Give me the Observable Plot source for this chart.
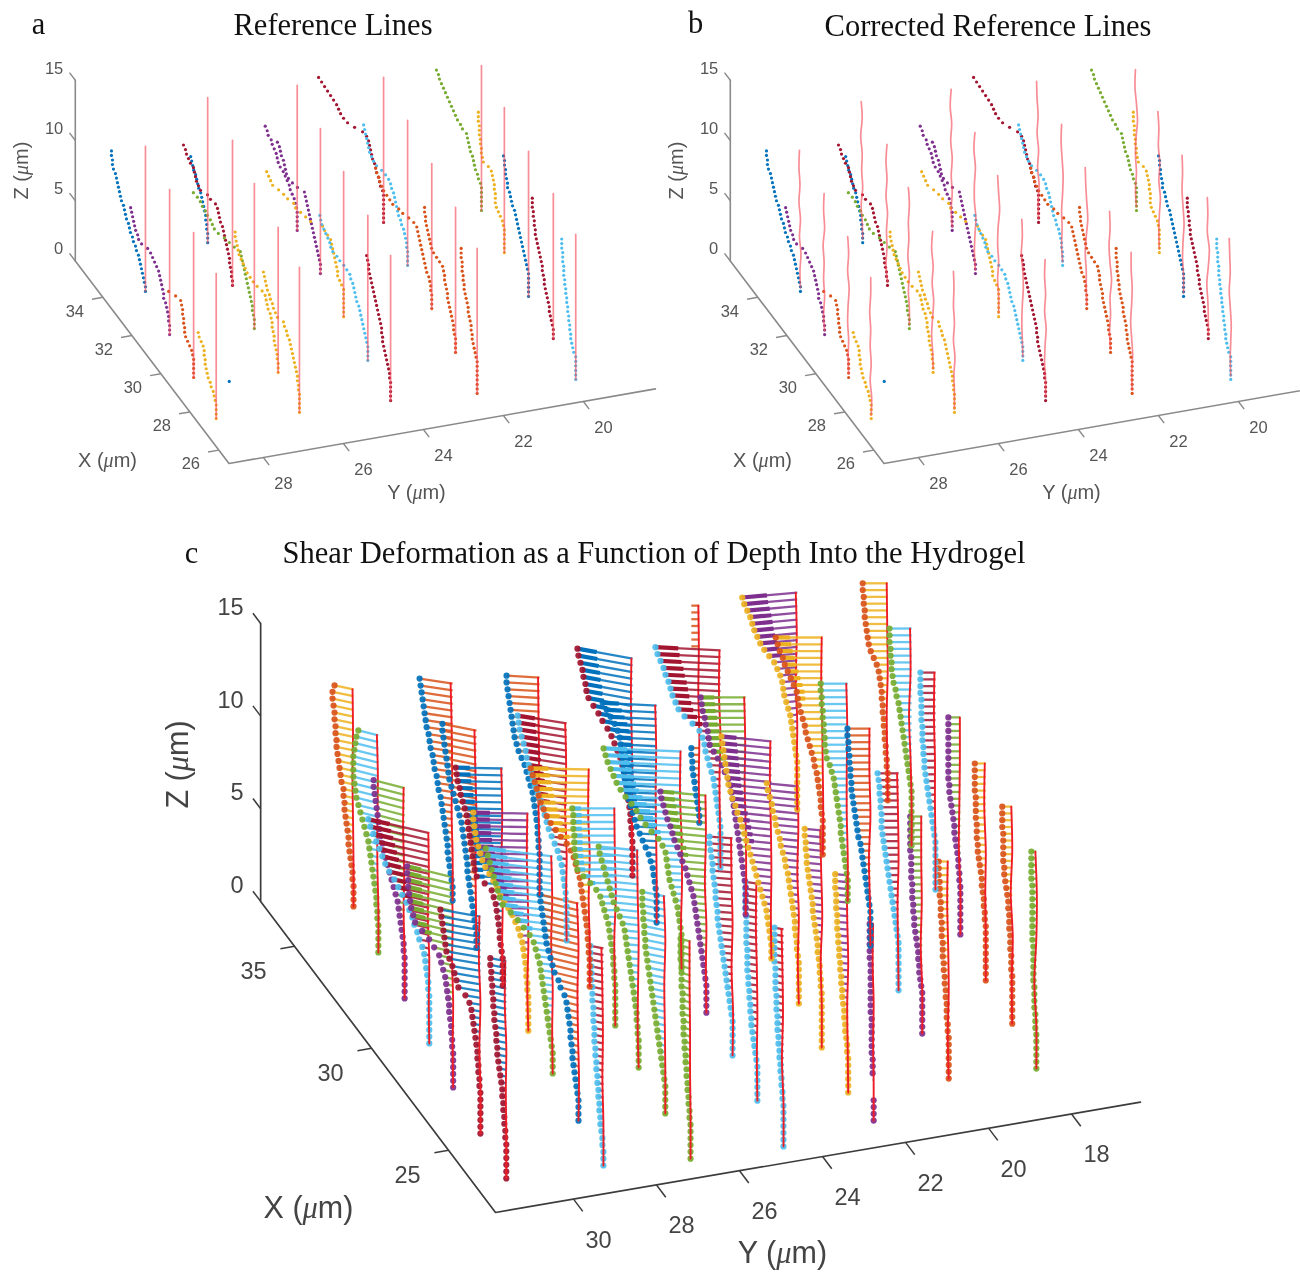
<!doctype html>
<html><head><meta charset="utf-8">
<style>html,body{margin:0;background:#fff}svg{display:block;filter:blur(.55px)}</style>
<script src="https://cdn.jsdelivr.net/npm/d3@7"></script>
<script src="https://cdn.jsdelivr.net/npm/@observablehq/plot@0.6"></script>
</head><body><script>
// series palette
const seriesNames=["b","o","y","p","g","c","m"];
const seriesColors=["#0072BD","#D95319","#EDB120","#7E2F8E","#77AC30","#4DBEEE","#A2142F"];

// panels a and b: 24 fibres. X, Y in um, levels counted from the gel surface
const aX=[33.93,31.74,29.56,27.48, 35.68,33.50,31.33,29.11,27.09, 35.52,33.34,31.16,28.94,26.90, 35.19,33.01,30.82,28.60,26.53, 34.95,32.82,30.60,28.45,26.38];
const aY=[27.82,28.01,28.20,28.39, 25.63,25.80,26.04,26.25,26.45, 23.45,23.66,23.87,24.07,24.24, 21.41,21.60,21.79,22.00,22.21, 19.05,19.25,19.45,19.61,19.80];
const aLevels=[32,29,20,20, 20,32,31,32,32, 24,30,33,33,33, 33,32,32,33,33, 32,32,32,32,32];
const aDots=["b","p","o","y", "b","m","g","y","y", "p","p","y","c","m", "m","c","o","o","o", "g","y","b","m","c"];
// shear per level, top to bottom, in 0.01 um
const aShear=[
[68,68,66,66,64,60,58,56,54,52,50,48,44,42,40,38,34,32,30,26,24,20,18,14,12,10,8,6,4,2,0],
[78,76,74,72,70,68,64,62,56,44,38,34,30,26,22,20,18,16,14,12,12,8,6,4,2,2,0],
[50,36,26,24,22,22,20,20,18,18,16,12,8,4,2,0],
[36,34,30,26,24,24,22,22,20,18,16,12,10,6,4,2,0],
[34,32,30,28,24,22,20,18,14,12,10,8,6,4,4,2,2,0],
[98,94,92,88,84,78,76,74,72,68,64,50,44,34,30,28,26,24,20,18,16,14,12,10,8,6,6,4,2,2,0],
[122,114,108,104,98,94,88,84,80,72,60,50,40,28,26,24,22,20,18,16,14,12,10,8,6,4,4,2,0],
[86,86,84,82,80,78,74,70,66,62,56,50,42,32,26,24,22,20,16,14,12,12,10,8,8,6,4,2,2,0],
[72,70,68,66,64,60,58,54,52,48,44,32,30,26,24,20,18,16,14,12,10,8,6,4,4,2,2,0],
[64,60,58,52,50,46,42,40,38,34,28,24,20,16,14,10,6,4,2,0],
[86,82,80,78,74,72,70,68,64,56,46,32,30,28,26,24,22,20,18,16,14,12,10,8,6,4,2,0],
[154,150,146,142,130,120,112,100,96,86,76,66,42,38,32,26,24,22,20,18,16,14,12,12,8,4,0],
[96,94,92,88,84,80,76,74,70,62,56,48,42,36,34,30,28,26,24,22,18,16,14,12,10,8,6,4,2,0],
[48,46,44,44,42,40,38,36,34,32,30,28,26,24,22,20,18,18,16,16,14,12,10,8,6,4,2,2,0],
[130,124,118,112,106,100,94,90,86,80,72,58,42,34,30,28,26,24,22,18,16,14,10,8,6,2,0],
[88,86,84,82,80,78,76,72,68,62,52,44,38,34,32,28,26,24,22,20,18,14,12,8,6,4,2,2,0],
[112,110,106,104,100,96,90,84,78,66,58,46,36,30,28,26,24,22,20,18,16,14,12,10,6,4,2,2,0],
[62,62,60,60,58,56,54,52,50,48,44,38,32,26,24,22,22,20,18,16,16,14,12,10,8,6,4,4,2,0],
[32,32,32,30,30,30,28,28,26,26,24,22,20,18,18,16,14,12,12,10,10,8,6,4,2,0],
[90,86,84,80,76,72,68,64,60,56,52,48,42,38,30,28,26,24,22,18,16,14,12,8,6,2,0],
[52,52,52,50,50,50,48,48,46,46,44,42,32,26,24,22,20,20,18,18,18,16,12,8,4,2,0],
[50,48,48,46,46,44,42,42,38,36,34,32,28,26,24,22,20,18,16,14,12,10,8,6,4,2,0],
[42,42,42,40,40,38,38,36,36,34,32,30,28,26,24,22,22,20,18,18,16,14,12,10,8,8,6,4,2,0],
[28,28,28,26,26,26,24,24,24,22,22,20,20,18,18,16,16,14,14,12,12,10,10,8,6,4,0]];
// corrected reference line of panel b: offset at nine depths, 0.01 um
const bRed=[
[2,3,1,3,0,2,-1,1,0],[1,2,0,3,1,2,0,2,0],[2,0,2,-1,1,2,0,1,0],[1,1,3,1,2,0,2,-1,0],
[3,1,4,1,2,0,3,1,0],[1,3,1,3,0,2,1,3,0],[2,0,2,1,3,0,2,0,0],[1,3,0,2,-1,1,3,1,0],[2,1,2,0,2,-1,1,0,0],
[2,4,1,3,0,2,0,2,0],[1,3,0,2,2,-1,1,2,0],[2,0,-2,1,2,0,2,0,0],[2,1,3,0,-1,1,2,1,0],[1,2,0,2,-1,1,2,0,0],
[4,3,1,3,0,2,-1,1,0],[2,3,1,-1,0,2,1,2,0],[3,2,0,-2,1,3,1,1,0],[2,1,3,1,-2,1,0,2,0],[2,2,0,1,3,1,-1,1,0],
[2,3,0,-2,1,2,0,2,0],[3,1,2,-1,1,-2,0,1,0],[3,2,3,1,-1,1,2,0,0],[2,1,2,-2,0,3,1,0,0],[3,2,1,3,1,-1,0,1,0]];
const loneX=[29.09],loneY=[27.48],loneZ=[0],loneSeries=["b"];

// panel c: 50 fibres
const cX=[36.29,34.11,31.92,29.78,27.69,25.49,23.35, 35.81,33.59,31.75,29.60,27.56,25.32,23.19, 35.42,33.23,31.06,29.18,27.18,24.99,22.84, 35.56,33.34,31.16,29.06,27.01,24.86,22.68, 37.36,35.26,33.03,30.93,28.77,26.69,24.54,23.13, 37.20,35.06,32.87,30.75,28.60,26.55,24.40, 36.93,34.79,32.70,30.57,28.38,26.31,24.18];
const cY=[29.98,30.19,30.37,30.57,30.77,30.93,31.10, 27.77,28.02,28.07,28.25,28.42,28.63,28.82, 25.82,25.98,26.23,26.31,26.49,26.66,26.85, 23.53,23.77,23.98,24.16,24.29,24.49,24.67, 21.25,21.52,21.74,21.90,22.04,22.26,22.42,22.33, 18.95,19.13,19.34,19.58,19.70,19.89,20.05, 16.87,17.09,17.29,17.48,17.68,17.81,18.02];
const cLevels=[33,33,32,32,32,33,33, 33,33,33,33,33,33,33, 33,33,33,33,33,33,33, 33,33,33,33,33,33,33, 33,33,33,33,33,33,33,30, 33,33,33,33,33,33,33, 33,33,33,33,33,33,33];
const cDots="ogpcpmm"+"bbmygbc"+"bcogggg"+"mbgpccc"+"bcpyyyyp"+"yogbcpo"+"ogcpoog";
const cLinks="ycgmgbb"+"oobpcom"+"omycccg"+"bbcgmmm"+"omgppppb"+"pycomgy"+"ycmgyyg";
const cTilt=[.21,.25,.26,.23,.24,.17,.2, .15,.2,.02,.02,.12,.24,.2, .06,.16,.02,0,.1,.2,.3, .18,.05,.04,.09,.08,.15,.2, 0,.05,0,.1,.1,.1,.1,0, -.09,0,0,0,0,0,0, 0,0,0,0,0,0,0];
const cFirstDot=[0,0,0,0,0,0,0, 0,0,0,0,0,0,0, 0,0,0,0,0,0,0, 0,0,0,0,0,0,0, 21,0,0,0,0,0,0,0, 0,0,0,0,0,0,0, 0,0,0,0,0,0,0];
// share of each connector drawn heavier next to its dot
const cHeavy=[0,0,0,.35,.3,0,0, 0,0,.3,.3,.3,0,0, 0,.35,.3,.2,0,0,0, .35,.3,.3,.3,0,0,0, 0,.35,.3,.3,0,0,0,0, .45,.3,0,0,0,0,0, 0,0,0,0,0,0,0];
const gapColumn=[35],gapFrom=[23],gapTo=[25];
const cShear=[
[38,42,42,40,38,38,36,36,34,34,32,30,28,26,24,20,20,18,18,16,14,12,10,10,8,6,4,2,2,0],
[40,44,46,48,50,50,50,50,48,46,44,40,36,32,28,24,20,18,16,14,12,10,8,6,4,4,2,2,0],
[62,62,60,58,56,54,52,50,48,44,42,38,34,30,26,22,18,14,12,10,8,6,4,2,2,0],
[122,118,112,106,100,94,88,80,70,62,54,46,40,34,30,24,20,14,10,8,6,4,2,2,0],
[92,92,90,90,88,86,84,80,76,62,48,38,28,24,20,16,14,12,10,8,8,6,4,4,2,2,0],
[80,78,76,74,72,70,68,62,56,52,48,44,30,22,18,16,14,12,10,8,6,6,4,4,2,2,0],
[32,32,30,30,28,28,26,26,24,24,22,20,20,18,18,16,14,12,10,8,8,6,6,4,4,2,2,0],
[66,64,62,60,58,56,54,52,48,46,44,40,38,36,32,30,28,24,22,20,18,16,14,12,10,10,8,6,4,2,0],
[68,68,66,64,62,60,58,56,54,50,46,42,38,34,30,28,26,24,22,20,18,18,16,14,12,10,8,6,4,2,0],
[94,92,90,86,84,80,76,72,70,68,66,64,62,60,58,56,52,36,22,18,14,12,10,8,6,6,4,2,0],
[110,110,108,106,104,100,96,92,86,78,70,62,56,48,40,32,26,20,16,12,10,8,6,4,4,2,2,0],
[134,130,126,122,118,114,110,106,100,84,70,58,46,38,34,30,26,24,22,20,18,16,14,12,10,8,6,4,2,0],
[76,76,74,72,70,68,66,64,60,56,52,48,40,36,28,24,22,20,18,16,16,14,12,12,10,8,6,4,2,0],
[26,26,26,24,24,24,22,22,22,20,20,20,18,18,18,16,16,14,14,12,12,10,10,8,8,6,6,4,2,2,0],
[66,66,64,62,60,58,56,54,52,50,46,42,36,30,26,22,18,14,12,10,8,6,4,4,2,2,0],
[98,96,94,90,86,82,80,76,72,68,64,58,52,48,44,40,36,30,24,18,14,10,8,6,4,2,2,0],
[118,114,110,106,102,98,92,86,78,68,58,46,38,32,28,24,20,18,16,14,12,10,8,6,4,4,2,2,0],
[86,84,84,84,82,82,82,80,78,76,64,50,38,30,26,22,18,14,12,10,8,6,4,4,2,2,0],
[80,78,74,70,66,62,58,54,50,44,38,32,28,26,24,22,20,18,16,14,12,10,8,6,4,4,2,2,0],
[46,46,46,44,44,42,42,40,40,38,36,34,32,30,28,26,24,22,20,18,16,14,12,10,8,6,4,2,0],
[20,20,20,20,18,18,18,18,16,16,16,16,14,14,14,12,12,10,10,8,8,6,6,4,4,2,2,0],
[110,108,104,100,98,94,92,88,78,68,60,50,42,36,30,24,20,16,14,12,10,8,6,4,4,2,2,0],
[108,100,92,84,78,74,72,70,68,66,66,64,60,58,56,52,48,44,40,34,28,22,16,12,8,6,4,2,0],
[156,152,148,142,136,130,122,112,100,90,82,72,60,46,38,32,30,28,26,24,20,16,12,8,6,4,2,0],
[92,90,86,82,78,72,68,64,58,52,48,42,38,34,30,26,24,22,20,18,16,14,12,10,8,6,4,2,0],
[46,46,44,42,40,40,38,36,34,34,32,30,30,28,26,24,22,20,18,16,14,12,10,8,6,4,2,0],
[24,24,24,24,24,22,22,22,22,22,20,20,20,20,18,18,16,16,14,14,12,12,10,8,6,4,2,0],
[18,18,18,18,18,18,16,16,16,16,14,14,14,12,12,12,10,10,8,8,6,6,4,4,2,2,0],
[16,16,16,16,16,16,16,0,0,0,0,0,0,0,0,0,0,0,0,0,0,16,16,14,14,12,10,8,6,4,2,0],
[130,126,120,114,110,104,100,96,90,84,72,56,42,36,32,30,26,22,18,14,12,10,8,6,4,2,0],
[90,88,86,82,80,76,74,72,64,56,48,42,34,30,28,26,24,22,20,18,16,14,12,10,8,6,4,2,0],
[100,98,96,94,92,90,88,86,82,78,72,68,62,58,54,50,46,42,38,34,30,26,22,18,14,10,8,6,4,2,0],
[64,62,58,54,52,48,46,42,38,36,32,28,26,22,20,18,16,14,12,10,8,8,6,4,4,2,0],
[34,34,32,32,30,30,28,26,24,22,20,18,18,16,14,12,10,8,8,6,4,4,2,2,0],
[26,26,26,24,24,24,22,22,22,20,20,18,18,16,16,14,14,12,12,10,8,8,6,6,4,2,2,0],
[8,8,8,8,8,8,6,6,6,6,6,6,6,6,4,4,4,4,4,4,2,2,2,2,0],
[110,106,100,94,90,86,80,74,66,56,46,40,34,30,28,26,22,18,14,12,10,8,6,4,2,0],
[94,90,86,80,76,70,64,58,52,50,48,44,40,36,34,30,26,22,18,16,12,10,8,6,4,4,2,0],
[54,54,52,52,50,50,48,48,46,46,44,42,36,32,28,26,24,22,20,18,16,14,14,12,10,8,6,4,2,0],
[46,46,44,44,42,42,40,40,38,38,36,34,32,30,28,26,24,20,18,16,14,12,10,8,6,4,2,0],
[42,40,38,38,36,36,34,34,34,32,30,28,26,24,22,20,18,16,14,12,10,8,6,4,2,0],
[24,24,24,24,24,24,22,22,22,22,20,20,20,18,18,16,16,14,12,10,8,8,6,6,4,2,0],
[20,20,20,18,18,18,16,16,16,14,14,14,12,12,12,10,10,8,8,6,6,4,4,4,2,2,0],
[50,50,48,48,46,46,44,42,40,38,34,28,22,18,16,14,12,12,10,10,8,8,6,6,4,4,2,2,0],
[44,44,44,42,42,40,40,38,36,32,30,26,24,22,20,18,16,14,12,10,8,6,4,2,0],
[30,30,30,30,28,28,28,28,26,26,26,24,24,22,22,20,18,16,14,12,10,8,6,4,2,0],
[24,24,24,24,24,24,24,24,24,24,22,22,20,18,16,14,12,12,10,8,6,4,4,2,2,0],
[22,22,22,22,22,20,20,20,20,18,18,18,16,16,14,12,10,8,8,6,4,4,2,2,0],
[20,20,20,20,18,18,18,18,18,16,16,14,12,10,8,8,6,6,6,4,4,4,2,2,2,0],
[10,10,10,10,10,8,8,8,8,8,8,8,8,8,6,6,6,6,6,6,4,4,4,4,2,2,2,0]];
// corrected line of panel c, offset at six depths, 0.01 um
const cRed=[
[2,1,2,1,0,0],[3,1,2,2,0,0],[2,3,1,2,0,0],[2,1,3,0,1,0],[3,1,2,0,1,0],[2,3,0,2,0,0],[2,3,0,1,0,0],
[4,2,1,2,0,0],[4,2,0,2,1,0],[3,1,2,0,1,0],[2,3,1,0,2,0],[3,1,3,0,1,0],[3,0,2,1,-1,0],[4,2,1,2,0,0],
[3,2,1,2,0,0],[3,1,3,0,1,0],[2,3,0,2,0,0],[2,1,-1,2,1,0],[3,2,0,1,2,0],[3,0,2,1,0,0],[2,2,1,1,0,0],
[2,3,1,0,1,0],[3,1,2,1,0,0],[2,3,0,-1,1,0],[2,1,3,0,1,0],[3,2,0,2,-1,0],[2,3,1,0,1,0],[4,2,1,3,0,0],
[2,1,2,0,1,0],[2,3,0,2,1,0],[3,1,2,0,-1,0],[2,3,1,0,1,0],[2,1,3,0,2,0],[3,1,-1,2,0,0],[3,2,0,2,1,0],[1,2,0,1,0,0],
[3,1,3,0,1,0],[2,3,1,0,-1,0],[3,1,2,2,0,0],[2,2,0,3,1,0],[3,1,0,2,1,0],[2,2,1,3,0,0],[2,3,1,0,2,0],
[2,1,0,2,1,0],[3,2,5,2,0,0],[2,3,1,1,0,0],[1,1,2,3,0,0],[2,3,0,1,0,0],[2,0,3,-1,1,0],[2,-1,0,4,0,0]];

// axes
const aXTicks=[26,28,30,32,34],aYTicks=[20,22,24,26,28],zTicks=[0,5,10,15];
const cXTicks=[25,30,35],cYTicks=[18,20,22,24,26,28,30];

// captions
const titleTexts=["a","Reference Lines","b","Corrected Reference Lines","c","Shear Deformation as a Function of Depth Into the Hydrogel"];
const titlePos=[[38,24],[332.5,25],[695,23],[987.5,26],[191,553],[653.5,553]];
const xName="X (μm)",yName="Y (μm)",zName="Z (μm)";

const W=1300,H=1273;
const viewA={ox:228.5,oy:463,x0:25.3,y0:28.86,xEnd:35.9,yEnd:18.2,xx:-14.5,xy:-19.1,yx:-40,yy:7,zz:12.05,dz:.376};
const viewB={...viewA,ox:883.5};
const viewC={ox:495,oy:1212,x0:21.95,y0:31.88,xEnd:37.2,yEnd:16.34,xx:-15.4,xy:-20.4,yx:-41.5,yy:7.1,zz:18.53,dz:.366};
const sx=(v,X,Y)=>v.ox+v.xx*(X-v.x0)+v.yx*(Y-v.y0);
const sy=(v,X,Y,Z)=>v.oy+v.xy*(X-v.x0)+v.yy*(Y-v.y0)-v.zz*Z;
// unit shear direction: one shear um moves a point 50 px to the left, with the given screen tilt
function dir(v,t){const det=v.xx*v.yy-v.yx*v.xy;
  return [(-50*v.yy+50*t*v.yx)/det,(v.xx*(-50*t)+50*v.xy)/det];}
const pt=(v,X,Y,Z,s,u)=>({x:sx(v,X+u[0]*s,Y+u[1]*s),y:sy(v,X+u[0]*s,Y+u[1]*s,Z)});

function axisMarks(v,o){
  const col=o.color,ms=[];
  const line=(a)=>Plot.line(a,{x:"x",y:"y",stroke:col,strokeWidth:o.sw});
  const P=(X,Y,Z)=>({x:sx(v,X,Y),y:sy(v,X,Y,Z)});
  ms.push(line([P(v.xEnd,v.y0,15),P(v.xEnd,v.y0,0),P(v.x0,v.y0,0),P(v.x0,v.yEnd,0)]));
  const tl=(rows)=>Plot.link(rows,{x1:"x1",y1:"y1",x2:"x2",y2:"y2",stroke:col,strokeWidth:o.sw*.9});
  const seg=(p,q)=>({x1:p.x,y1:p.y,x2:q.x,y2:q.y});
  ms.push(tl(o.xt.map(t=>seg(P(t,v.y0,0),P(t,v.y0+o.xl,0)))));
  ms.push(tl(o.yt.map(t=>seg(P(v.x0,t,0),P(v.x0-o.yl,t,0)))));
  ms.push(tl(zTicks.map(t=>seg(P(v.xEnd,v.y0,t),P(v.xEnd+o.zl,v.y0,t)))));
  const txt=(rows,d)=>Plot.text(rows,{x:"x",y:"y",text:"t",fontFamily:"Liberation Sans",fontSize:o.fs,fill:o.tc,...d});
  ms.push(txt(o.xt.map(t=>({...P(t,v.y0,0),t:String(t)})),{dx:o.xd[0],dy:o.xd[1]}));
  ms.push(txt(o.yt.map(t=>({...P(v.x0,t,0),t:String(t)})),{dx:o.yd[0],dy:o.yd[1]}));
  ms.push(txt(zTicks.map(t=>({...P(v.xEnd,v.y0,t),t:String(t)})),{dx:o.zd[0],dy:o.zd[1],textAnchor:"end"}));
  const name=(t,p,r)=>Plot.text([{x:p[0],y:p[1],t}],{x:"x",y:"y",text:"t",rotate:r||0,fontFamily:"Liberation Sans",fontSize:o.nfs,fill:o.tc});
  ms.push(name(xName,o.xn),name(yName,o.yn),name(zName,o.zn,-90));
  return ms;
}
function smallPanel(v,corrected){
  const u=dir(v,0),dots=[],reds=[];
  aX.forEach((X,c)=>{const Y=aY[c],n=aLevels[c];
    for(let i=0;i<n;i++){dots.push({...pt(v,X,Y,(n-1-i)*v.dz,(aShear[c][i]??0)/100,u),series:aDots[c]});}
    if(corrected){const k=bRed[c].length;
      bRed[c].forEach((w,j)=>reds.push({...pt(v,X,Y,.3+11.4*(1-j/(k-1)),w/100,u),c}));
    }else{[32,0].forEach(l=>reds.push({...pt(v,X,Y,l*v.dz,0,u),c}));}
  });
  loneX.forEach((X,i)=>dots.push({...pt(v,X,loneY[i],loneZ[i],0,u),series:loneSeries[i]}));
  return [
    Plot.dot(dots,{x:"x",y:"y",fill:"series",r:1.6}),
    Plot.line(reds,{x:"x",y:"y",z:"c",stroke:"#f5505e",strokeWidth:1.7,strokeOpacity:.65,curve:corrected?"catmull-rom":"linear"})
  ];
}
function bigPanel(v){
  const ms=[];
  cX.forEach((X,c)=>{const Y=cY[c],n=cLevels[c],u=dir(v,cTilt[c]),links=[],heavy=[],dots=[];
    const g=gapColumn.indexOf(c);
    for(let i=0;i<n;i++){const Z=(n-1-i)*v.dz,s=(cShear[c][i]??0)/100,a=pt(v,X,Y,Z,s,u),b=pt(v,X,Y,Z,0,u);
      if(s>0)links.push({x1:a.x,y1:a.y,x2:b.x,y2:b.y,series:cLinks[c]});
      if(s>=.5&&cHeavy[c]>0){const m=pt(v,X,Y,Z,s*(1-cHeavy[c]),u);heavy.push({x1:a.x,y1:a.y,x2:m.x,y2:m.y,series:cLinks[c]});}
      if(i>=cFirstDot[c]&&!(g>=0&&i>=gapFrom[g]&&i<=gapTo[g]))dots.push({...a,series:cDots[c]});}
    const k=cRed[c].length,zTop=(n-1)*v.dz;
    const red=cRed[c].map((w,j)=>pt(v,X,Y,zTop*(1-j/(k-1)),w/100,u));
    ms.push(Plot.link(links,{x1:"x1",y1:"y1",x2:"x2",y2:"y2",stroke:"series",strokeWidth:2.3,strokeOpacity:.85}));
    if(heavy.length)ms.push(Plot.link(heavy,{x1:"x1",y1:"y1",x2:"x2",y2:"y2",stroke:"series",strokeWidth:4.2}));
    ms.push(Plot.dot(dots,{x:"x",y:"y",fill:"series",r:3.1,fillOpacity:.92}));
    ms.push(Plot.line(red,{x:"x",y:"y",stroke:"#ee1c25",strokeWidth:1.9,curve:"catmull-rom"}));
  });
  return ms;
}
const smallStyle={color:"#8a8a8a",sw:1.6,tc:"#555",fs:16.5,nfs:20,xl:.27,yl:.4,zl:.4,xd:[-28,14],yd:[20,26],zd:[-12,-12]};
const bigStyle={color:"#3c3c3c",sw:1.7,tc:"#444",fs:23.5,nfs:30.5,xl:.34,yl:.6,zl:.5,xd:[-41,25],yd:[25,41],zd:[-17,-16]};

const svg=Plot.plot({
  width:W,height:H,margin:0,
  x:{domain:[0,W],range:[0,W],axis:null},
  y:{domain:[0,H],range:[0,H],axis:null},
  color:{domain:seriesNames,range:seriesColors},
  marks:[
    Plot.text(titleTexts.map((t,i)=>({t,x:titlePos[i][0],y:titlePos[i][1]})),{x:"x",y:"y",text:"t",fontFamily:"Liberation Serif",fontSize:30.5,fill:"#111"}),
    ...axisMarks(viewA,{...smallStyle,xt:aXTicks,yt:aYTicks,xn:[107,460],yn:[416,492],zn:[21,170]}),
    ...axisMarks(viewB,{...smallStyle,xt:aXTicks,yt:aYTicks,xn:[762,460],yn:[1071,492],zn:[676,170]}),
    ...smallPanel(viewA,false),
    ...smallPanel(viewB,true),
    ...axisMarks(viewC,{...bigStyle,xt:cXTicks,yt:cYTicks,xn:[308,1208],yn:[782,1253],zn:[178,764]}),
    ...bigPanel(viewC)
  ]
});
d3.select(svg).selectAll("text").each(function(){
  const e=d3.select(this),t=e.text();
  if(t.includes("μ")){e.text(null);const [l,r]=t.split("μ");
    e.append("tspan").text(l);e.append("tspan").attr("font-style","italic").attr("font-family","Liberation Serif").text("μ");e.append("tspan").text(r);}
});
document.body.appendChild(svg);
</script></body></html>
